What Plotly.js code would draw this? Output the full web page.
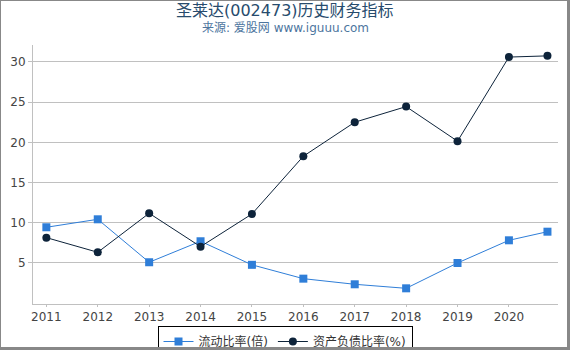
<!DOCTYPE html>
<html><head><meta charset="utf-8">
<script src="https://cdn.plot.ly/plotly-3.0.1.min.js"></script>
<style>
html,body{margin:0;padding:0;background:#fff;}
#wrap{position:relative;width:570px;height:350px;}
#chart{width:570px;height:350px;}
#frame{position:absolute;left:0;top:0;width:570px;height:350px;box-sizing:border-box;border-left:1px solid #888;border-top:1px solid #888;border-right:3px solid #888;border-bottom:3px solid #888;pointer-events:none;}
</style></head>
<body><div id="wrap"><div id="chart"></div><div id="frame"></div></div>
<script>
const years = [2011, 2012, 2013, 2014, 2015, 2016, 2017, 2018, 2019, 2020, 2020.75];
const tickYears = [2011, 2012, 2013, 2014, 2015, 2016, 2017, 2018, 2019, 2020];
const tickLabels = ['2011','2012','2013','2014','2015','2016','2017','2018','2019','2020'];
const currentRatio = [9.44, 10.43, 5.09, 7.70, 4.77, 3.05, 2.35, 1.85, 5.0, 7.82, 8.89];
const debtRatio = [8.15, 6.33, 11.18, 7.03, 11.09, 18.27, 22.5, 24.44, 20.14, 30.6, 30.75];
const yTicks = [5, 10, 15, 20, 25, 30];
const seriesNames = ['流动比率(倍)', '资产负债比率(%)'];
const titleText = '圣莱达(002473)历史财务指标';
const subtitleText = '来源: 爱股网 www.iguuu.com';

const FONT = 'DejaVu Sans, Noto Sans CJK SC, sans-serif';
const traces = [
  {x: years, y: currentRatio, name: seriesNames[0], type: 'scatter', mode: 'lines+markers',
   line: {color: '#2f7ed8', width: 1}, marker: {symbol: 'square', size: 8, color: '#2f7ed8'}},
  {x: years, y: debtRatio, name: seriesNames[1], type: 'scatter', mode: 'lines+markers',
   line: {color: '#0d233a', width: 1}, marker: {symbol: 'circle', size: 8, color: '#0d233a'}}
];
const layout = {
  width: 570, height: 350,
  margin: {l: 33, r: 12, t: 45, b: 46, autoexpand: false},
  paper_bgcolor: '#fff', plot_bgcolor: '#fff',
  font: {family: FONT, size: 12, color: '#333'},
  showlegend: true,
  legend: {orientation: 'h', x: 0.48, xanchor: 'center', y: -0.085, yanchor: 'top',
           bordercolor: '#000', borderwidth: 1, font: {family: FONT, size: 12, color: '#333'},
           itemwidth: 30, tracegroupgap: 0},
  xaxis: {range: [2010.74, 2020.955], tickvals: tickYears, ticktext: tickLabels,
          showgrid: false, zeroline: false, showline: true, linecolor: '#c0c0c0', linewidth: 1,
          ticks: 'outside', ticklen: 2, tickcolor: '#c0c0c0', tickfont: {size: 12, color: '#444'}},
  yaxis: {range: [-0.1, 32.1], tickvals: yTicks, ticktext: yTicks.map(String),
          showgrid: true, gridcolor: '#c0c0c0', zeroline: false, showline: true, linecolor: '#c0c0c0',
          linewidth: 1, ticks: 'outside', ticklen: 4, tickcolor: '#c0c0c0', tickfont: {size: 12, color: '#444'}},
  annotations: [
    {text: titleText, xref: 'paper', yref: 'paper', x: 0.48, y: 1, yshift: 35, showarrow: false,
     font: {family: FONT, size: 16, color: '#274b6d'}, xanchor: 'center', yanchor: 'middle'},
    {text: subtitleText, xref: 'paper', yref: 'paper', x: 0.48, y: 1, yshift: 17, showarrow: false,
     font: {family: FONT, size: 12, color: '#4d759e'}, xanchor: 'center', yanchor: 'middle'}
  ]
};
Plotly.newPlot('chart', traces, layout, {displayModeBar: false, staticPlot: true});
</script></body></html>
